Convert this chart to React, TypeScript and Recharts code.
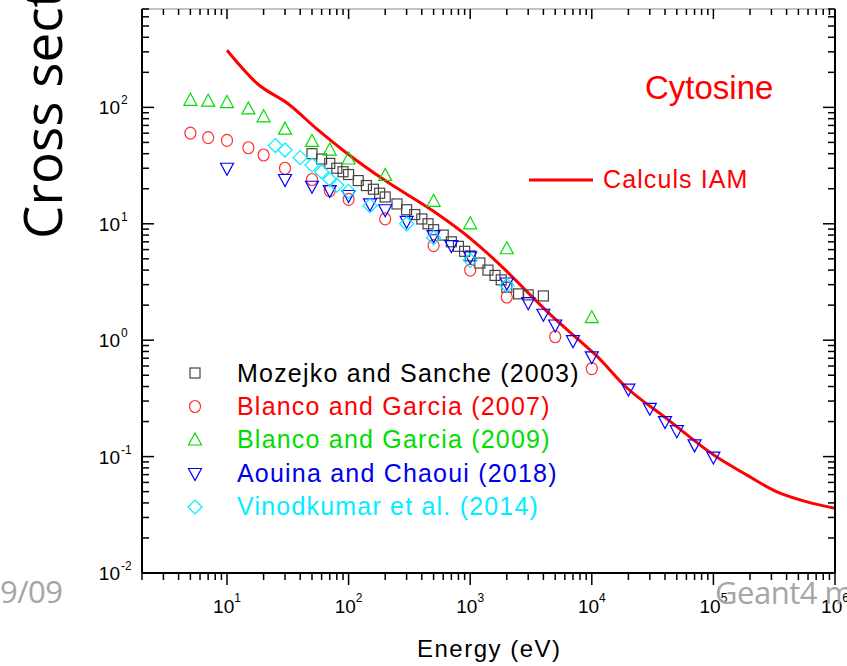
import React from 'react';
import { ComposedChart, XAxis, YAxis, Line, Scatter } from 'recharts';

// IAM calculation (red line)
const iamEnergy = [10, 18, 32, 55, 95, 200, 500, 1000, 2000, 3000, 4500, 7600, 10800, 19000, 41000, 105000, 186000, 330000, 580000, 1000000];
const iamCross = [310, 158, 107, 65, 41, 23.5, 12.8, 7.5, 3.9, 2.55, 1.68, 1.03, 0.744, 0.398, 0.213, 0.1, 0.07, 0.05, 0.041, 0.036];

// Mozejko and Sanche (2003)
const mozEnergy = [50, 60, 70, 80, 90, 100, 120, 140, 160, 180, 200, 250, 300, 350, 400, 450, 500, 600, 700, 800, 900, 1000, 1200, 1400, 1600, 1800, 2000, 2500, 3000, 4000];
const mozCross = [40, 36, 33, 30, 28, 26.5, 23.5, 21.3, 19.8, 18.3, 17, 14.8, 13.2, 12, 11, 10, 8.9, 8, 7, 6.4, 5.8, 5.3, 4.6, 4, 3.6, 3.3, 2.85, 2.5, 2.45, 2.4];

// Blanco and Garcia (2007)
const bg07Energy = [5, 7, 10, 15, 20, 30, 50, 70, 100, 200, 500, 1000, 2000, 5000, 10000];
const bg07Cross = [60, 55, 52, 45, 39, 30, 24, 19.3, 16.2, 11, 6.5, 4, 2.35, 1.07, 0.57];

// Blanco and Garcia (2009)
const bg09Energy = [5, 7, 10, 15, 20, 30, 50, 70, 100, 200, 500, 1000, 2000, 10000];
const bg09Cross = [115, 113, 110, 97, 83, 65, 51, 43, 36, 26, 15.6, 10, 6.1, 1.56];

// Aouina and Chaoui (2018)
const acEnergy = [10, 30, 50, 70, 100, 150, 200, 300, 500, 700, 1000, 2000, 3000, 4000, 5000, 7000, 10000, 20000, 30000, 40000, 50000, 70000, 100000];
const acCross = [30, 24, 21, 19.3, 17.5, 14.8, 13.2, 10.5, 7.9, 6.5, 5.2, 3.1, 2.1, 1.67, 1.35, 0.99, 0.72, 0.38, 0.26, 0.2, 0.167, 0.126, 0.099];

// Vinodkumar et al. (2014)
const vkEnergy = [25, 30, 40, 50, 60, 70, 80, 100, 150, 300, 500, 1000, 2000];
const vkCross = [47, 43, 37, 32, 28, 24, 21.5, 19, 14.3, 10, 7.6, 4.85, 2.96];

const xDomain = [2, 1000000];
const yDomain = [0.01, 700];

const legendItems = [
  { kind: 'square', color: '#444444', text: '#000000', label: 'Mozejko and Sanche (2003)' },
  { kind: 'circle', color: '#ff3030', text: '#ff0000', label: 'Blanco and Garcia (2007)' },
  { kind: 'triangle', color: '#00dd00', text: '#00dd00', label: 'Blanco and Garcia (2009)' },
  { kind: 'down', color: '#0000ff', text: '#0000ee', label: 'Aouina and Chaoui (2018)' },
  { kind: 'diamond', color: '#00eeff', text: '#00eeff', label: 'Vinodkumar et al. (2014)' },
];

const pts = (xs: number[], ys: number[]) => xs.map((x, i) => ({ x, y: ys[i] }));

const logTicks = (lo: number, hi: number) => {
  const out: number[] = [];
  for (let k = -3; k <= 7; k++) {
    for (let m = 1; m <= 9; m++) {
      const v = Number((m * Math.pow(10, k)).toPrecision(6));
      if (v >= lo && v <= hi) out.push(v);
    }
  }
  return out;
};

const xTicks = logTicks(xDomain[0], xDomain[1]);
const yTicks = logTicks(yDomain[0], yDomain[1]);

const isMajor = (v: number) => Math.abs(Math.log10(v) - Math.round(Math.log10(v))) < 1e-6;
const expOf = (v: number) => Math.round(Math.log10(v));

const FONT = '"Liberation Sans", Arial, sans-serif';

function Marker({ kind, cx, cy, color }: { kind: string; cx: number; cy: number; color: string }) {
  const common = { fill: 'none', stroke: color, strokeWidth: 1.2 };
  if (kind === 'square') return <rect x={cx - 5} y={cy - 5} width={10} height={10} {...common} />;
  if (kind === 'circle') return <ellipse cx={cx} cy={cy} rx={5.5} ry={6} {...common} />;
  if (kind === 'triangle')
    return <polygon points={`${cx},${cy - 7} ${cx - 6.5},${cy + 5} ${cx + 6.5},${cy + 5}`} {...common} />;
  if (kind === 'down')
    return <polygon points={`${cx - 6.5},${cy - 5} ${cx + 6.5},${cy - 5} ${cx},${cy + 7}`} {...common} />;
  return <polygon points={`${cx},${cy - 7} ${cx + 7},${cy} ${cx},${cy + 7} ${cx - 7},${cy}`} {...common} />;
}

const shapeOf = (kind: string, color: string) => (props: any) => (
  <Marker kind={kind} cx={props.cx} cy={props.cy} color={color} />
);

const BottomTick = (props: any) => {
  const { x, y, payload } = props;
  const major = isMajor(payload.value);
  return (
    <g>
      <line x1={x} y1={y} x2={x} y2={y + (major ? 12 : 7)} stroke="#000" strokeWidth={1.5} />
      {major && (
        <text x={x} y={y + 40} textAnchor="middle" fontFamily={FONT} fontSize={19} fill="#000">
          10<tspan dy={-11} fontSize={12}>{expOf(payload.value)}</tspan>
        </text>
      )}
    </g>
  );
};

const TopTick = (props: any) => {
  const { x, y, payload } = props;
  const major = isMajor(payload.value);
  return <line x1={x} y1={y} x2={x} y2={y + (major ? 10 : 6)} stroke="#000" strokeWidth={1.5} />;
};

const LeftTick = (props: any) => {
  const { x, y, payload } = props;
  const major = isMajor(payload.value);
  return (
    <g>
      <line x1={x} y1={y} x2={x + (major ? 12 : 7)} y2={y} stroke="#000" strokeWidth={1.5} />
      {major && (
        <text x={x - 22} y={y + 7} textAnchor="end" fontFamily={FONT} fontSize={19} fill="#000">
          10
        </text>
      )}
      {major && (
        <text x={x - 21} y={y - 3} textAnchor="start" fontFamily={FONT} fontSize={12} fill="#000">
          {expOf(payload.value)}
        </text>
      )}
    </g>
  );
};

const RightTick = (props: any) => {
  const { x, y, payload } = props;
  const major = isMajor(payload.value);
  return <line x1={x} y1={y} x2={x - (major ? 12 : 7)} y2={y} stroke="#000" strokeWidth={1.5} />;
};

export default function App() {
  return (
    <div style={{ position: 'absolute', left: 0, top: 0, width: 847, height: 666, background: '#fff' }}>
      <ComposedChart width={847} height={666} margin={{ top: 8, right: 11, bottom: 0, left: 0 }}>
        <XAxis
          xAxisId="b"
          dataKey="x"
          type="number"
          scale="log"
          domain={xDomain}
          allowDataOverflow
          ticks={xTicks}
          interval={0}
          height={93}
          tickSize={0}
          tickMargin={0}
          tickLine={false}
          axisLine={{ stroke: '#000', strokeWidth: 2 }}
          tick={<BottomTick />}
        />
        <XAxis
          xAxisId="t"
          orientation="top"
          dataKey="x"
          type="number"
          scale="log"
          domain={xDomain}
          allowDataOverflow
          ticks={xTicks}
          interval={0}
          height={1}
          tickSize={0}
          tickMargin={0}
          tickLine={false}
          axisLine={{ stroke: '#888', strokeWidth: 1 }}
          tick={<TopTick />}
        />
        <YAxis
          yAxisId="l"
          dataKey="y"
          type="number"
          scale="log"
          domain={yDomain}
          allowDataOverflow
          ticks={yTicks}
          interval={0}
          width={142}
          tickSize={0}
          tickMargin={0}
          tickLine={false}
          axisLine={{ stroke: '#000', strokeWidth: 2 }}
          tick={<LeftTick />}
        />
        <YAxis
          yAxisId="r"
          orientation="right"
          dataKey="y"
          type="number"
          scale="log"
          domain={yDomain}
          allowDataOverflow
          ticks={yTicks}
          interval={0}
          width={1}
          tickSize={0}
          tickMargin={0}
          tickLine={false}
          axisLine={{ stroke: '#000', strokeWidth: 2 }}
          tick={<RightTick />}
        />
        <Scatter xAxisId="b" yAxisId="l" data={pts(mozEnergy, mozCross)} shape={shapeOf('square', '#444444')} isAnimationActive={false} />
        <Scatter xAxisId="b" yAxisId="l" data={pts(bg07Energy, bg07Cross)} shape={shapeOf('circle', '#ff3030')} isAnimationActive={false} />
        <Scatter xAxisId="b" yAxisId="l" data={pts(bg09Energy, bg09Cross)} shape={shapeOf('triangle', '#00dd00')} isAnimationActive={false} />
        <Scatter xAxisId="b" yAxisId="l" data={pts(acEnergy, acCross)} shape={shapeOf('down', '#0000ff')} isAnimationActive={false} />
        <Scatter xAxisId="b" yAxisId="l" data={pts(vkEnergy, vkCross)} shape={shapeOf('diamond', '#00eeff')} isAnimationActive={false} />
        <Line
          xAxisId="b"
          yAxisId="l"
          data={pts(iamEnergy, iamCross)}
          dataKey="y"
          type="monotone"
          stroke="#ff0000"
          strokeWidth={3}
          dot={false}
          isAnimationActive={false}
        />
      </ComposedChart>
      <svg width={847} height={666} style={{ position: 'absolute', left: 0, top: 0, pointerEvents: 'none' }}>
        <text transform="translate(62,239) rotate(-90)" fontFamily='"Open Sans", sans-serif' fontSize={53} fill="#000">
          Cross section
        </text>
        <text x={0} y={603} fontFamily='"Open Sans", sans-serif' fontSize={31} fill="#a6a6a6" letterSpacing={-0.5}>
          9/09
        </text>
        <text x={715} y={604} fontFamily='"Open Sans", sans-serif' fontSize={31} fill="#a6a6a6" letterSpacing={-0.5}>
          Geant4 m
        </text>
        <text x={417} y={657} fontFamily={FONT} fontSize={24} fill="#000" letterSpacing={1.5}>
          Energy (eV)
        </text>
        <text x={645} y={99} fontFamily={FONT} fontSize={33} fill="#ff0000">
          Cytosine
        </text>
        <line x1={529} y1={180} x2={593} y2={180} stroke="#ff0000" strokeWidth={3} />
        <text x={603} y={188} fontFamily={FONT} fontSize={25} fill="#ff0000" letterSpacing={1.1}>
          Calculs IAM
        </text>
        {legendItems.map((item, i) => (
          <g key={item.label}>
            <Marker kind={item.kind} cx={195} cy={373 + i * 33.5} color={item.color} />
            <text x={237} y={381.7 + i * 33.3} fontFamily={FONT} fontSize={25} fill={item.text} letterSpacing={1.2}>
              {item.label}
            </text>
          </g>
        ))}
      </svg>
    </div>
  );
}
